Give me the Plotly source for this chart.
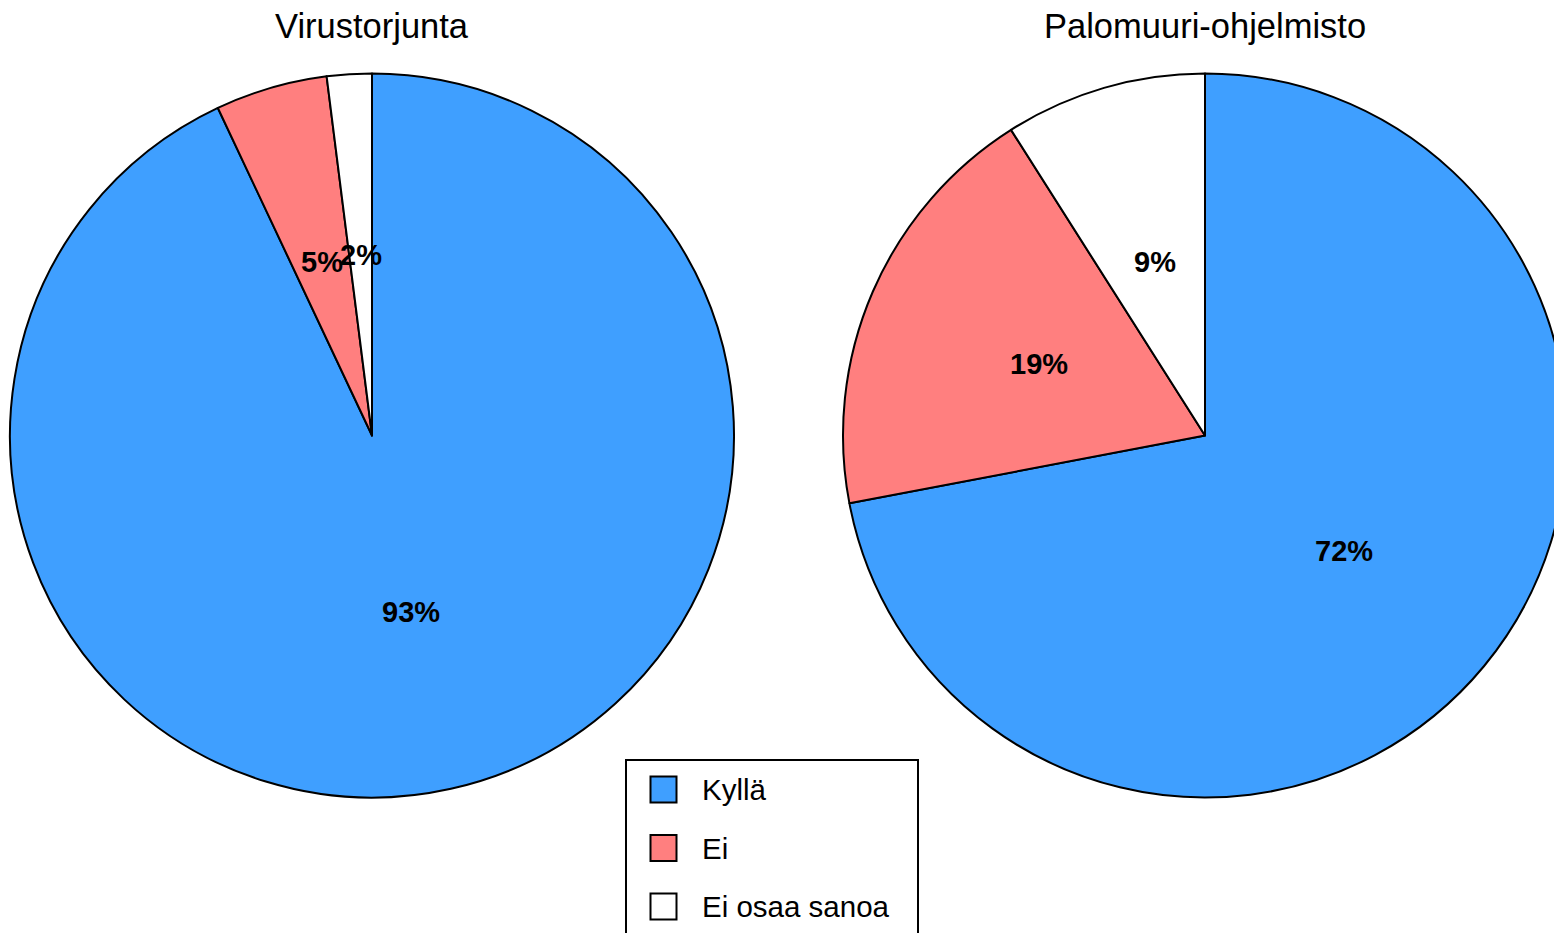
import plotly.graph_objects as go
import math

# ---- data ----
categories = ["Kyllä", "Ei", "Ei osaa sanoa"]
virustorjunta = [93, 5, 2]
palomuuri = [72, 19, 9]
titles = ["Virustorjunta", "Palomuuri-ohjelmisto"]
colors = ["#3F9FFF", "#FF7F7F", "#FFFFFF"]

# ---- layout constants (pixels) ----
W, H = 1570, 933
R = 362
centers = [(372, 435.5), (1205, 435.5)]
FONT = "Liberation Sans, Arial, sans-serif"


def px(x):
    return x / W


def py(y):
    return 1 - y / H


fig = go.Figure()
annotations = []
shapes = []

for (cx, cy), vals, title in zip(centers, [virustorjunta, palomuuri], titles):
    fig.add_trace(go.Pie(
        labels=categories,
        values=vals,
        sort=False,
        direction="clockwise",
        rotation=0,
        textinfo="none",
        showlegend=False,
        marker=dict(colors=colors, line=dict(color="black", width=2)),
        domain=dict(x=[px(cx - R), px(cx + R)], y=[py(cy + R), py(cy - R)]),
        hovertemplate="%{label}: %{value}%<extra></extra>",
    ))
    total = sum(vals)
    cum = 0
    for v in vals:
        mid = (cum + v / 2) / total
        th = mid * 2 * math.pi
        lx = cx + 0.5 * R * math.sin(th)
        ly = cy - 0.5 * R * math.cos(th)
        annotations.append(dict(
            x=px(lx), y=py(ly), xref="paper", yref="paper",
            text="<b>%d%%</b>" % round(v / total * 100), showarrow=False,
            xanchor="center", yanchor="middle",
            font=dict(family=FONT, size=29, color="black"),
        ))
        cum += v
    annotations.append(dict(
        x=px(cx), y=py(26), xref="paper", yref="paper", text=title,
        showarrow=False, xanchor="center", yanchor="middle",
        font=dict(family=FONT, size=34.5, color="black"),
    ))

# ---- manual legend ----
LX0, LX1, LY0 = 626, 918, 760
shapes.append(dict(type="rect", xref="paper", yref="paper",
                   x0=px(LX0), x1=px(LX1), y0=py(LY0), y1=py(H + 20),
                   line=dict(color="black", width=2), fillcolor="white", layer="above"))
for i, (cat, col) in enumerate(zip(categories, colors)):
    yc = 789.5 + 58.5 * i
    shapes.append(dict(type="rect", xref="paper", yref="paper",
                       x0=px(650.5), x1=px(676.5), y0=py(yc + 13), y1=py(yc - 13),
                       line=dict(color="black", width=2), fillcolor=col, layer="above"))
    annotations.append(dict(
        x=px(700), y=py(yc), xref="paper", yref="paper", text=cat,
        showarrow=False, xanchor="left", yanchor="middle",
        font=dict(family=FONT, size=29.5, color="black"),
    ))

fig.update_layout(
    width=W, height=H,
    margin=dict(l=0, r=0, t=0, b=0),
    paper_bgcolor="white", plot_bgcolor="white",
    annotations=annotations, shapes=shapes,
    showlegend=False,
)

fig.write_html("out.html",
               config={"displayModeBar": False},
               post_script="document.body.style.margin='0';document.body.style.overflow='hidden';")
